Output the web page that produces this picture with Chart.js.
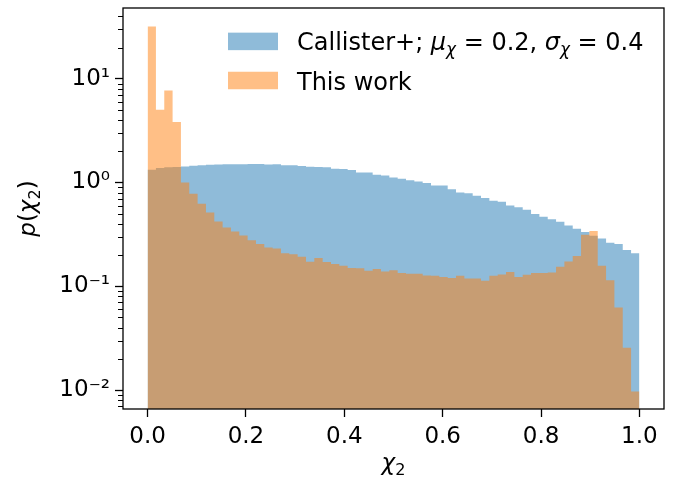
<!DOCTYPE html>
<html>
<head>
<meta charset="utf-8">
<script src="https://cdn.jsdelivr.net/npm/chart.js@4.4.1/dist/chart.umd.min.js"></script>
<style>
  html, body { margin: 0; padding: 0; background: #ffffff; }
  #wrap { width: 685px; height: 491px; }
  canvas { display: block; }
</style>
</head>
<body>
<div id="wrap"><canvas id="c" width="685" height="491"></canvas></div>
<script>
// ---------------- data ----------------
const BIN_COUNT = 59;               // histogram bins on [0, 1]
const X_RANGE = [0, 1];
const binEdges = Array.from({length: BIN_COUNT + 1}, (_, i) => X_RANGE[0] + i * (X_RANGE[1] - X_RANGE[0]) / BIN_COUNT);

const seriesNames = ['Callister+', 'This work'];

// p(chi_2) per bin
const callisterValues = [
  1.33, 1.38, 1.40, 1.41, 1.43, 1.45, 1.47, 1.48, 1.49, 1.50,
  1.50, 1.50, 1.51, 1.51, 1.49, 1.50, 1.47, 1.47, 1.44, 1.42,
  1.41, 1.40, 1.36, 1.35, 1.32, 1.25, 1.25, 1.19, 1.17, 1.12,
  1.09, 1.05, 1.02, 0.99, 0.935, 0.935, 0.863, 0.80, 0.79, 0.744,
  0.711, 0.666, 0.651, 0.600, 0.579, 0.545, 0.496, 0.467, 0.443, 0.418,
  0.385, 0.358, 0.333, 0.306, 0.289, 0.262, 0.255, 0.224, 0.208
];
const thisWorkValues = [
  31.9, 5.02, 7.71, 3.82, 1.00, 0.778, 0.623, 0.514, 0.421, 0.368,
  0.337, 0.308, 0.278, 0.255, 0.236, 0.231, 0.208, 0.204, 0.193, 0.172,
  0.187, 0.171, 0.164, 0.158, 0.150, 0.149, 0.141, 0.147, 0.139, 0.143,
  0.134, 0.132, 0.132, 0.127, 0.126, 0.123, 0.120, 0.126, 0.119, 0.119,
  0.113, 0.126, 0.130, 0.137, 0.123, 0.129, 0.134, 0.134, 0.136, 0.154,
  0.173, 0.196, 0.313, 0.340, 0.158, 0.114, 0.0623, 0.0256, 0.0097
];

const xTickValues = [0.0, 0.2, 0.4, 0.6, 0.8, 1.0];
const yDecades = [-2, -1, 0, 1];

// ---------------- styling ----------------
const FONT = 'DejaVu Sans';
const FS = 23;
const LFS = 24;
const BLUE = 'rgba(31,119,180,0.5)';
const ORANGE = 'rgba(255,127,14,0.5)';
const Y_MIN = Math.pow(10, -2.183);
const Y_MAX = Math.pow(10, 1.682);

const SUP = {'-': '⁻', '0': '⁰', '1': '¹', '2': '²', '3': '³'};
const supStr = s => String(s).split('').map(c => SUP[c] || c).join('');
const isPow10 = v => Math.abs(Math.log10(v) - Math.round(Math.log10(v))) < 1e-9;

// histogram as a step outline: each bin's value held from its left edge to its right edge
const toSteps = vals => binEdges.map((x, i) => ({x: x, y: vals[Math.min(i, vals.length - 1)]}));

// rich text pieces: {t, s (size), it (italic), dy (baseline shift)}
function richWidth(ctx, parts) {
  let w = 0;
  for (const p of parts) {
    ctx.font = (p.it ? 'italic ' : '') + p.s + 'px "' + FONT + '"';
    w += ctx.measureText(p.t).width;
  }
  return w;
}
function drawRich(ctx, parts, x, base) {
  ctx.textBaseline = 'alphabetic';
  ctx.textAlign = 'left';
  for (const p of parts) {
    ctx.font = (p.it ? 'italic ' : '') + p.s + 'px "' + FONT + '"';
    ctx.fillText(p.t, x, base + (p.dy || 0));
    x += ctx.measureText(p.t).width;
  }
}

const SUB = FS * 0.7;
const xTitleParts = [{t: 'χ', s: FS, it: true}, {t: '2', s: SUB, dy: 5}];
const yTitleParts = [{t: 'p', s: FS, it: true}, {t: '(', s: FS}, {t: 'χ', s: FS, it: true}, {t: '2', s: SUB, dy: 5}, {t: ')', s: FS}];

const legendRows = [
  {name: seriesNames[0], y: 41.4, color: BLUE, parts: [
    {t: seriesNames[0] + '; ', s: LFS},
    {t: 'μ', s: LFS, it: true},
    {t: 'χ', s: LFS * 0.7, it: true, dy: 4.5},
    {t: ' = 0.2, ', s: LFS},
    {t: 'σ', s: LFS, it: true},
    {t: 'χ', s: LFS * 0.7, it: true, dy: 4.5},
    {t: ' = 0.4', s: LFS}
  ]},
  {name: seriesNames[1], y: 80.5, color: ORANGE, parts: [{t: seriesNames[1], s: LFS}]}
];

// frame + minor ticks + axis titles + legend
const decorPlugin = {
  id: 'decor',
  afterDraw(chart) {
    const {ctx, chartArea: a} = chart;
    const ys = chart.scales.y;
    ctx.save();
    ctx.strokeStyle = '#000';
    ctx.lineWidth = 1.0;
    for (const t of ys.ticks) {
      if (isPow10(t.value)) continue;
      const py = Math.round(ys.getPixelForValue(t.value)) + 0.5;
      ctx.beginPath();
      ctx.moveTo(a.left - 5, py);
      ctx.lineTo(a.left, py);
      ctx.stroke();
    }
    ctx.lineWidth = 1.3;
    ctx.strokeRect(a.left, a.top, a.right - a.left, a.bottom - a.top);

    ctx.fillStyle = '#000';
    // x axis title
    const cx = (a.left + a.right) / 2;
    const wx = richWidth(ctx, xTitleParts);
    drawRich(ctx, xTitleParts, cx - wx / 2, 470);
    // y axis title (rotated)
    const cy = (a.top + a.bottom) / 2;
    const wy = richWidth(ctx, yTitleParts);
    ctx.save();
    ctx.translate(35, cy);
    ctx.rotate(-Math.PI / 2);
    drawRich(ctx, yTitleParts, -wy / 2, 0);
    ctx.restore();

    // legend
    const boxX = 228, boxW = 50, boxH = 17.5;
    for (const r of legendRows) {
      ctx.fillStyle = r.color;
      ctx.fillRect(boxX, r.y - boxH / 2, boxW, boxH);
      ctx.fillStyle = '#000';
      drawRich(ctx, r.parts, 297, r.y + 9);
    }
    ctx.restore();
  }
};

const commonSeries = {stepped: 'before', fill: 'start', borderWidth: 0, borderColor: 'rgba(0,0,0,0)', pointRadius: 0, pointHoverRadius: 0, tension: 0};

new Chart(document.getElementById('c').getContext('2d'), {
  type: 'line',
  data: {
    datasets: [
      Object.assign({label: seriesNames[0], data: toSteps(callisterValues), backgroundColor: BLUE, order: 2}, commonSeries),
      Object.assign({label: seriesNames[1], data: toSteps(thisWorkValues), backgroundColor: ORANGE, order: 1}, commonSeries)
    ]
  },
  options: {
    responsive: false,
    animation: false,
    devicePixelRatio: 1,
    events: [],
    layout: {padding: {top: 8, right: 21, left: 0, bottom: 0}},
    plugins: {legend: {display: false}, tooltip: {enabled: false}},
    scales: {
      x: {
        type: 'linear',
        min: -0.05, max: 1.05,
        offset: false,
        border: {display: false},
        grid: {offset: false, drawOnChartArea: false, drawTicks: true, tickLength: 8, tickColor: '#000', tickWidth: 1.3, color: '#000'},
        afterBuildTicks: s => { s.ticks = xTickValues.map(v => ({value: v})); },
        ticks: {autoSkip: false, maxRotation: 0, padding: 6, color: '#000', font: {family: FONT, size: FS},
                callback: v => Number(v).toFixed(1)},
        title: {display: false},
        afterFit: s => { s.height = 82; s.paddingLeft = 0; s.paddingRight = 0; }
      },
      y: {
        type: 'logarithmic',
        min: Y_MIN, max: Y_MAX,
        border: {display: false},
        grid: {drawOnChartArea: false, drawTicks: true, tickLength: 8, tickWidth: 1.3,
               tickColor: c => (c.tick && isPow10(c.tick.value)) ? '#000' : 'rgba(0,0,0,0)', color: '#000'},
        afterBuildTicks: s => {
          const t = [];
          for (let e = -3; e <= 2; e++) {
            for (let k = 1; k <= 9; k++) {
              const v = k * Math.pow(10, e);
              if (v >= Y_MIN && v <= Y_MAX) t.push({value: v, major: k === 1});
            }
          }
          s.ticks = t;
        },
        ticks: {autoSkip: false, padding: 5, color: '#000', font: {family: FONT, size: FS},
                callback: v => {
                  if (!isPow10(v)) return '';
                  const e = Math.round(Math.log10(v));
                  return yDecades.includes(e) ? '10' + supStr(e) : '';
                }},
        title: {display: false},
        afterFit: s => { s.width = 123; s.paddingTop = 0; s.paddingBottom = 0; }
      }
    }
  },
  plugins: [decorPlugin]
});
</script>
</body>
</html>
